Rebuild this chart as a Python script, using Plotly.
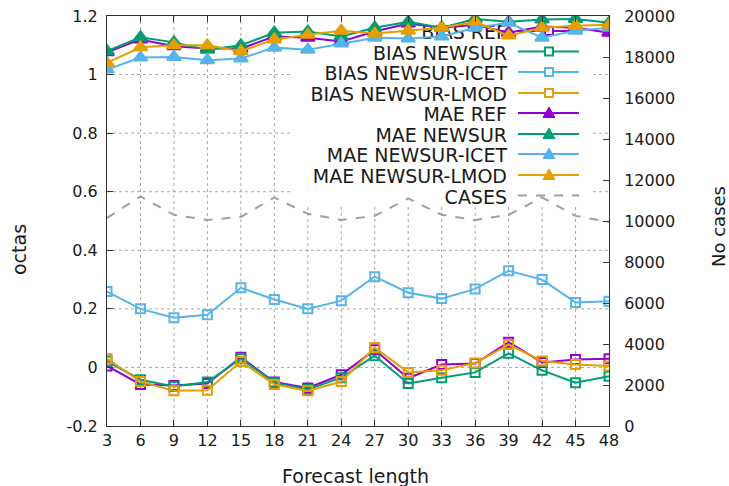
import plotly.graph_objects as go

forecast_length = [3, 6, 9, 12, 15, 18, 21, 24, 27, 30, 33, 36, 39, 42, 45, 48]

bias_ref = [0.005, -0.058, -0.062, -0.055, 0.035, -0.05, -0.07, -0.025, 0.06, -0.037, 0.01, 0.013, 0.086, 0.017, 0.027, 0.03]
bias_newsur = [0.022, -0.042, -0.065, -0.05, 0.03, -0.052, -0.075, -0.035, 0.04, -0.055, -0.035, -0.017, 0.048, -0.01, -0.052, -0.03]
bias_icet = [0.259, 0.20, 0.17, 0.18, 0.272, 0.232, 0.20, 0.228, 0.31, 0.255, 0.235, 0.268, 0.33, 0.30, 0.222, 0.226]
bias_lmod = [0.03, -0.048, -0.08, -0.078, 0.02, -0.058, -0.08, -0.048, 0.068, -0.017, -0.01, 0.015, 0.078, 0.022, 0.01, 0.005]

mae_ref = [1.076, 1.12, 1.097, 1.089, 1.089, 1.13, 1.126, 1.113, 1.147, 1.174, 1.16, 1.17, 1.143, 1.164, 1.16, 1.143]
mae_newsur = [1.08, 1.127, 1.11, 1.085, 1.10, 1.143, 1.147, 1.13, 1.16, 1.18, 1.16, 1.19, 1.18, 1.188, 1.19, 1.177]
mae_icet = [1.017, 1.058, 1.06, 1.049, 1.055, 1.092, 1.085, 1.106, 1.126, 1.123, 1.13, 1.16, 1.177, 1.126, 1.15, 1.16]
mae_lmod = [1.04, 1.093, 1.10, 1.10, 1.08, 1.12, 1.136, 1.15, 1.14, 1.15, 1.16, 1.18, 1.133, 1.16, 1.167, 1.17]

cases = [10150, 11200, 10300, 10050, 10200, 11150, 10350, 10050, 10250, 11100, 10300, 10050, 10300, 11150, 10250, 9950]

y1_ticks = [-0.2, 0, 0.2, 0.4, 0.6, 0.8, 1.0, 1.2]
y1_labels = ["-0.2", "0", "0.2", "0.4", "0.6", "0.8", "1", "1.2"]
y2_ticks = [0, 2000, 4000, 6000, 8000, 10000, 12000, 14000, 16000, 18000, 20000]
y2_labels = [str(v) for v in y2_ticks]

names = ["BIAS REF", "BIAS NEWSUR", "BIAS NEWSUR-ICET", "BIAS NEWSUR-LMOD",
         "MAE REF", "MAE NEWSUR", "MAE NEWSUR-ICET", "MAE NEWSUR-LMOD", "CASES"]
series = [bias_ref, bias_newsur, bias_icet, bias_lmod, mae_ref, mae_newsur, mae_icet, mae_lmod]
colors = ["#9400D3", "#009E73", "#56B4E9", "#E69F00"] * 2
symbols = ["square-open"] * 4 + ["triangle-up"] * 4
sizes = [9] * 4 + [12] * 4
CASES_COLOR = "#A0A0A0"
GRID_COLOR = "#A8A8A8"
AXIS_COLOR = "#333333"
TEXT_COLOR = "#1a1a1a"

FONT = "DejaVu Sans"
TICK_SIZE = 16
LABEL_SIZE = 19
W, H = 729, 486
ML, MR, MT, MB = 107, 120, 16, 60
PW, PH = W - ML - MR, H - MT - MB

fig = go.Figure()
for i, (nm, ys) in enumerate(zip(names[:8], series)):
    fig.add_trace(go.Scatter(
        x=forecast_length, y=ys, name=nm, mode="lines+markers",
        line=dict(color=colors[i], width=2),
        marker=dict(symbol=symbols[i], size=sizes[i], color=colors[i],
                    line=dict(color=colors[i], width=2)),
        showlegend=False))
fig.add_trace(go.Scatter(
    x=forecast_length, y=cases, name="CASES", mode="lines", yaxis="y2",
    line=dict(color=CASES_COLOR, width=2, dash="dash"), showlegend=False))


def px2paper(px, py):
    return (px - ML) / PW, (MT + PH - py) / PH


shapes = []
# dotted grid drawn as shapes below traces
for xv in forecast_length[1:-1]:
    shapes.append(dict(type="line", xref="x", yref="paper", x0=xv, x1=xv, y0=0, y1=1,
                       line=dict(color=GRID_COLOR, width=1, dash="dot"), layer="below"))
for yv in y1_ticks[1:-1]:
    shapes.append(dict(type="line", xref="paper", yref="y", x0=0, x1=1, y0=yv, y1=yv,
                       line=dict(color=GRID_COLOR, width=1, dash="dot"), layer="below"))
# opaque key background (hides grid, beneath traces)
x0, y0 = px2paper(293, 206)
x1, y1 = px2paper(590, 20)
shapes.append(dict(type="rect", xref="paper", yref="paper", x0=x0, x1=x1, y0=y0, y1=y1,
                   fillcolor="white", line=dict(width=0), layer="below"))
row_y = [31, 51.5, 72, 93, 113, 134, 154, 175, 195.5]
sx0, sx1, smid = 518, 579, 549
text_edge = 507
annotations = []
for i, nm in enumerate(names):
    py = row_y[i]
    col = colors[i] if i < 8 else CASES_COLOR
    a0, b = px2paper(sx0, py)
    a1, _ = px2paper(sx1, py)
    shapes.append(dict(type="line", xref="paper", yref="paper", x0=a0, x1=a1, y0=b, y1=b,
                       line=dict(color=col, width=2, dash="solid" if i < 8 else "dash"),
                       layer="below"))
    t0, _ = px2paper(text_edge, py)
    t1, _ = px2paper(text_edge + 8, py)
    shapes.append(dict(type="line", xref="paper", yref="paper", x0=t0, x1=t1, y0=b, y1=b,
                       line=dict(color="rgba(0,0,0,0)", width=0), layer="below",
                       label=dict(text=nm, textposition="start", xanchor="right", yanchor="middle",
                                  padding=0,
                                  font=dict(family=FONT, size=LABEL_SIZE, color=TEXT_COLOR))))
    if i < 4:
        q0x, q0y = px2paper(smid - 4, py + 4)
        q1x, q1y = px2paper(smid + 4, py - 4)
        shapes.append(dict(type="rect", xref="paper", yref="paper", x0=q0x, x1=q1x, y0=q0y, y1=q1y,
                           line=dict(color=col, width=2), fillcolor="white", layer="below"))
    elif i < 8:
        ta = px2paper(smid, py - 6)
        tb = px2paper(smid - 6, py + 4.5)
        tc = px2paper(smid + 6, py + 4.5)
        path = f"M {ta[0]},{ta[1]} L {tb[0]},{tb[1]} L {tc[0]},{tc[1]} Z"
        shapes.append(dict(type="path", xref="paper", yref="paper", path=path,
                           fillcolor=col, line=dict(color=col, width=1), layer="below"))

# axis titles as annotations (exact placement)
ax, ay = px2paper(355, 476)
annotations.append(dict(x=ax, y=ay, xref="paper", yref="paper", text="Forecast length",
                        showarrow=False, xanchor="center", yanchor="middle",
                        font=dict(family=FONT, size=LABEL_SIZE, color=TEXT_COLOR)))
ax, ay = px2paper(19, 250)
annotations.append(dict(x=ax, y=ay, xref="paper", yref="paper", text="octas", textangle=-90,
                        showarrow=False, xanchor="center", yanchor="middle",
                        font=dict(family=FONT, size=LABEL_SIZE, color=TEXT_COLOR)))
ax, ay = px2paper(718, 227)
annotations.append(dict(x=ax, y=ay, xref="paper", yref="paper", text="No cases", textangle=-90,
                        showarrow=False, xanchor="center", yanchor="middle",
                        font=dict(family=FONT, size=LABEL_SIZE - 1, color=TEXT_COLOR)))

tickfont = dict(family=FONT, size=TICK_SIZE, color=TEXT_COLOR)

fig.update_layout(
    width=W, height=H,
    margin=dict(l=ML, r=MR, t=MT, b=MB, autoexpand=False),
    paper_bgcolor="white", plot_bgcolor="white",
    font=dict(family=FONT, size=TICK_SIZE, color=TEXT_COLOR),
    shapes=shapes, annotations=annotations,
    xaxis=dict(range=[3, 48], tickmode="array", tickvals=forecast_length,
               ticktext=[str(v) for v in forecast_length],
               ticks="inside", ticklen=6, tickcolor=AXIS_COLOR,
               showline=True, linecolor=AXIS_COLOR, linewidth=1, mirror="ticks",
               showgrid=False, zeroline=False, tickfont=tickfont, automargin=False),
    yaxis=dict(range=[-0.2, 1.2], tickmode="array", tickvals=y1_ticks, ticktext=y1_labels,
               ticks="inside", ticklen=6, tickcolor=AXIS_COLOR,
               showline=True, linecolor=AXIS_COLOR, linewidth=1,
               showgrid=False, zeroline=False, tickfont=tickfont, automargin=False,
               ticklabelstandoff=5),
    yaxis2=dict(range=[0, 20000], overlaying="y", side="right",
                tickmode="array", tickvals=y2_ticks, ticktext=y2_labels,
                ticks="inside", ticklen=6, tickcolor=AXIS_COLOR,
                showline=True, linecolor=AXIS_COLOR, linewidth=1,
                showgrid=False, zeroline=False, tickfont=tickfont, automargin=False,
                ticklabelstandoff=11),
)

fig.write_html("out.html", config={"displayModeBar": False},
               post_script="document.body.style.margin='0';")
